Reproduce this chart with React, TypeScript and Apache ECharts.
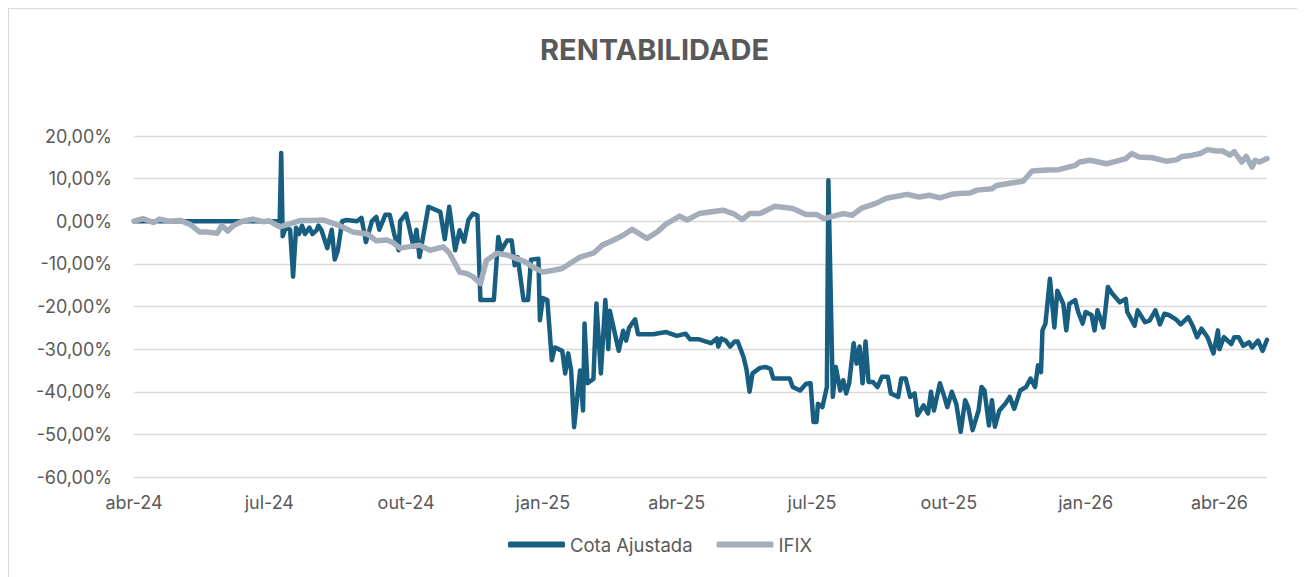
import React, { useEffect, useRef } from "react";
import * as echarts from "echarts";

const TITLE = "RENTABILIDADE";
const START_UTC = Date.UTC(2024, 3, 1);
const TOTAL_DAYS = 763;
const MONTH_ABBR = ["jan", "fev", "mar", "abr", "mai", "jun", "jul", "ago", "set", "out", "nov", "dez"];
const SERIES_NAMES = ["Cota Ajustada", "IFIX"];

// day offsets from 2024-04-01 and values in %
const cotaDays = [0,98,99,100,102,105,107,109,111,113,115,118,120,123,124,126,130,133,135,137,140,143,150,153,156,160,163,165,169,172,175,178,179,183,188,190,192,198,206,209,212,216,219,222,225,228,231,233,242,245,247,251,254,256,258,262,265,267,272,273,275,278,281,283,288,290,292,294,296,300,302,303,305,309,311,314,317,319,320,326,329,331,333,337,339,349,358,365,371,374,380,388,392,393,395,398,401,404,406,410,412,414,416,421,425,428,430,441,443,448,452,455,457,459,460,463,466,467,470,472,475,477,479,481,484,486,488,490,492,494,497,500,503,507,509,514,516,519,522,525,527,531,534,536,538,542,545,547,550,553,556,559,561,564,568,570,572,575,577,579,582,586,589,592,596,600,603,606,608,610,611,613,616,619,621,625,627,629,633,635,638,640,644,646,648,652,655,658,663,667,668,673,675,680,683,687,690,693,696,701,704,709,712,715,718,722,726,729,730,733,738,740,743,746,750,752,756,759,762];
const cotaValues = [0,0,16,-3.5,-1.5,-2,-13,-1.5,-3,-1,-3,-1.5,-3,-2,-1,-2,-6.3,-2,-9,-7,0,0.3,0,0.8,-4.9,0,1,-2,1.5,1.5,-3,-6.8,0,1.8,-6,-2,-8.4,3.4,2.2,-4.2,3.4,-6.8,-2.1,-4.8,0.4,1.8,1.4,-18.5,-18.5,-3.7,-6.8,-4.5,-4.5,-10.3,-8.4,-18.5,-18.5,-9,-8.8,-23.2,-18,-18.5,-32.6,-29.6,-30.4,-35.7,-31,-35,-48.3,-35,-44.4,-24,-38,-37,-19.3,-35.7,-18.5,-30,-21,-30.4,-25.7,-28,-25,-23,-26.5,-26.5,-26,-26.9,-26.4,-27.7,-27.7,-28.6,-27.5,-29.4,-27.5,-28,-29.4,-28.2,-28.2,-31.9,-34.9,-40,-35.7,-34.4,-34.2,-34.6,-36.9,-36.9,-38.9,-39.7,-38.1,-38,-47.1,-47.1,-42.8,-43.6,-38.9,9.6,-41.2,-34.2,-39.7,-37.3,-40.4,-38,-28.6,-33.4,-29.4,-38,-28.2,-37.7,-37.7,-38.9,-36.5,-36.5,-40.4,-41.2,-36.9,-36.9,-41.2,-40.4,-45.5,-43.2,-45.1,-40,-44.4,-38,-41.2,-43.6,-40,-42.8,-49.4,-42,-43.6,-49,-44.4,-38.9,-39.7,-47.9,-42,-48.2,-44.4,-42.8,-41.2,-44,-39.7,-38.9,-36.9,-38.9,-33.8,-35.4,-25.6,-24,-13.5,-24.9,-16.3,-19.4,-25.6,-19.4,-18.5,-21.3,-24,-21.3,-22,-25.6,-20.9,-24.9,-15.4,-17,-19,-18.2,-21.3,-24.5,-20.9,-23.7,-23.3,-20.9,-24.2,-21.7,-22,-23.1,-24.2,-22.5,-24.5,-27.2,-25.2,-27.2,-31,-25.6,-30,-27.2,-28.8,-27.2,-27.2,-29.2,-28.4,-29.6,-28,-30.4,-27.8];

const ifixDays = [0,6,13,17,24,31,38,44,49,56,59,63,67,73,80,87,91,98,105,112,120,127,134,140,147,157,163,170,174,179,192,199,208,212,219,224,228,233,237,244,251,257,263,268,275,282,288,295,300,309,315,322,329,335,345,352,358,367,372,380,396,403,409,414,421,431,443,452,459,464,477,483,489,499,506,520,528,535,542,551,555,562,567,577,580,589,598,604,614,622,633,636,643,654,661,667,671,676,685,694,701,705,712,717,722,728,732,737,740,745,748,752,754,757,762];
const ifixValues = [0,0.6,-0.3,0.5,0,0.2,-0.8,-2.5,-2.5,-2.8,-1,-2.3,-1,0,0.5,-0.1,0.1,-1.3,-0.6,0.2,0.2,0.3,-0.5,-1.3,-2.5,-3,-4.6,-4.4,-5,-6.3,-5.6,-6.8,-6,-7.4,-11.9,-12.3,-13,-14.6,-9.2,-7.5,-7.9,-8.7,-9.5,-10.7,-11.9,-11.5,-11.1,-9.5,-8.4,-7.5,-5.6,-4.5,-3.3,-1.9,-4,-2.5,-0.6,1.2,0.3,1.8,2.6,1.8,0.4,1.8,1.8,3.5,3,1.6,1.6,0.6,1.8,1.4,3,4.2,5.4,6.3,5.7,6.1,5.5,6.4,6.5,6.6,7.3,7.6,8.4,8.9,9.4,11.8,12,12.1,13.1,13.9,14.3,13.5,14.1,14.7,15.9,15.1,14.9,14.1,14.4,15.2,15.5,15.9,16.8,16.5,16.5,15.5,16.3,13.9,15.2,12.7,14.3,13.9,14.7];

const Y_MIN = -60;
const Y_MAX = 20;
const Y_STEP = 10;

const FONT = "Inter, 'Noto Sans', sans-serif";
const TEXT_COLOR = "#595959";

function dayToDate(i: number): Date {
  return new Date(START_UTC + i * 86400000);
}

const categories: string[] = Array.from({ length: TOTAL_DAYS }, (_, i) => dayToDate(i).toISOString().slice(0, 10));

function isQuarterStart(cat: string): boolean {
  const d = new Date(cat + "T00:00:00Z");
  return d.getUTCDate() === 1 && d.getUTCMonth() % 3 === 0;
}

function quarterLabel(cat: string): string {
  const d = new Date(cat + "T00:00:00Z");
  if (!isQuarterStart(cat)) return "";
  return MONTH_ABBR[d.getUTCMonth()] + "-" + String(d.getUTCFullYear()).slice(2);
}

export default function App() {
  const ref = useRef<HTMLDivElement>(null);
  useEffect(() => {
    if (!ref.current) return;
    const chart = echarts.init(ref.current, null, { renderer: "svg" });
    const cotaData = cotaDays.map((d, i) => [categories[d], cotaValues[i]]);
    const ifixData = ifixDays.map((d, i) => [categories[d], ifixValues[i]]);
    chart.setOption({
      animation: false,
      backgroundColor: "#ffffff",
      title: {
        text: TITLE,
        left: "center",
        top: 21,
        textStyle: { fontFamily: FONT, fontSize: 29, fontWeight: "bold", color: TEXT_COLOR },
      },
      legend: {
        left: 494,
        top: 521,
        itemWidth: 57,
        itemHeight: 6,
        itemGap: 24,
        icon: "roundRect",
        textStyle: { fontFamily: FONT, fontSize: 18.5, color: TEXT_COLOR },
        data: SERIES_NAMES,
      },
      grid: { left: 125, right: 33, top: 127, bottom: 100, containLabel: false },
      xAxis: {
        type: "category",
        data: categories,
        boundaryGap: false,
        axisLine: { show: false },
        axisTick: { show: false },
        splitLine: { show: false },
        axisLabel: {
          interval: (index: number, value: string) => isQuarterStart(value),
          formatter: (value: string) => quarterLabel(value),
          fontFamily: FONT,
          fontSize: 18,
          color: TEXT_COLOR,
          margin: 16,
        },
      },
      yAxis: {
        type: "value",
        min: Y_MIN,
        max: Y_MAX,
        interval: Y_STEP,
        axisLine: { show: false },
        axisTick: { show: false },
        splitLine: { lineStyle: { color: "#d9d9d9", width: 1.3 } },
        axisLabel: {
          formatter: (v: number) => v.toFixed(2).replace(".", ",") + "%",
          fontFamily: FONT,
          fontSize: 18,
          color: TEXT_COLOR,
          margin: 22,
        },
      },
      series: [
        {
          name: SERIES_NAMES[0],
          type: "line",
          data: cotaData,
          showSymbol: false,
          symbol: "none",
          color: "#185e80",
          lineStyle: { width: 4.5, color: "#185e80", cap: "round", join: "round" },
        },
        {
          name: SERIES_NAMES[1],
          type: "line",
          data: ifixData,
          showSymbol: false,
          symbol: "none",
          color: "#a3aeba",
          lineStyle: { width: 5.5, color: "#a3aeba", cap: "round", join: "round" },
        },
      ],
    });
    return () => chart.dispose();
  }, []);
  return (
    <div style={{ width: 1291, height: 568, borderTop: "1px solid #d9d9d9", borderLeft: "1px solid #d9d9d9", borderRight: "1px solid #d9d9d9", background: "#fff" }}>
      <div ref={ref} style={{ width: 1291, height: 568 }} />
    </div>
  );
}
